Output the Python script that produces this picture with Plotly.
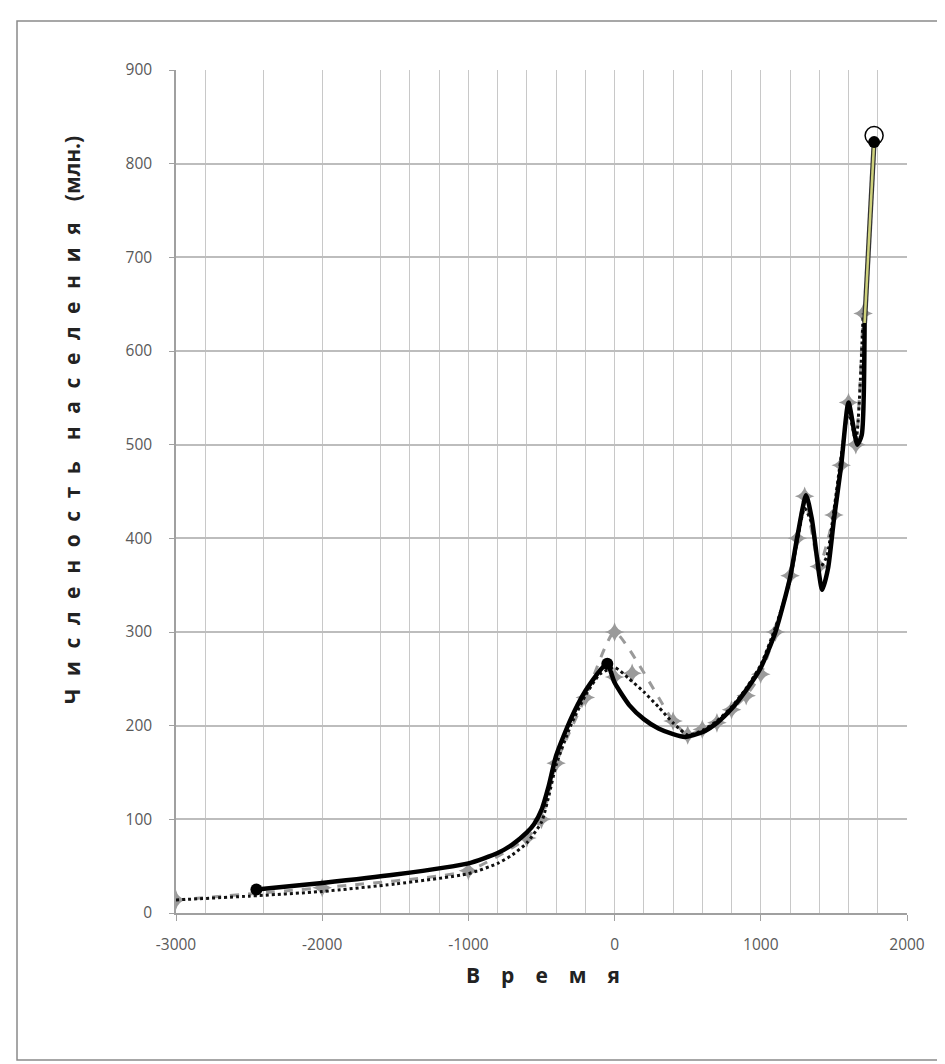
import plotly.graph_objects as go

# ---- data ----
data_years = [-3000, -2000, -1000, -600, -500, -400, -200, 0, 400, 500, 600, 700,
              800, 900, 1000, 1100, 1200, 1250, 1300, 1400, 1500, 1550, 1600, 1650, 1700]
data_pop = [14, 27, 45, 80, 100, 160, 230, 300, 205, 190, 196, 203,
            217, 232, 255, 300, 360, 400, 445, 370, 425, 478, 545, 500, 640]

extra_years = [0, 120]
extra_pop = [252, 256]

dot_years = [-3000, -2500, -2000, -1500, -1000, -800, -700, -600, -500, -450, -400, -300,
             -200, -100, 0, 100, 200, 300, 400, 500, 600, 700, 800, 900, 1000, 1100,
             1200, 1250, 1300, 1350, 1400, 1450, 1500, 1550, 1600, 1650, 1700]
dot_pop = [14, 18, 23, 31, 42, 53, 62, 75, 97, 125, 158, 200,
           232, 255, 262, 250, 236, 220, 203, 190, 195, 205, 220, 240, 265, 305,
           355, 398, 432, 415, 368, 380, 430, 488, 535, 505, 640]

model_years = [-2450, -2000, -1500, -1000, -800, -700, -600, -550, -500, -450, -400, -300,
               -200, -100, -50, 0, 100, 200, 300, 400, 480, 600, 700, 800, 900, 1000,
               1100, 1200, 1250, 1310, 1350, 1420, 1460, 1500, 1550, 1600, 1660, 1690, 1710]
model_pop = [25, 32, 41, 53, 64, 73, 86, 95, 110, 136, 168, 207,
             237, 259, 266, 246, 222, 207, 197, 191, 188, 193, 203, 218, 238, 262,
             300, 358, 402, 446, 420, 345, 368, 420, 478, 545, 500, 510, 630]

tail_years = [1710, 1775]
tail_pop = [630, 823]

marker_years = [-2450, -50, 1775]
marker_pop = [25, 266, 823]

end_year = [1775]
end_pop = [830]

x_ticks = [-3000, -2000, -1000, 0, 1000, 2000]
x_minor = [-2800, -2400, -1600, -1400, -1200, -800, -600, -400, -200, 200, 400, 600,
           800, 1200, 1400, 1600, 1800]
y_ticks = [0, 100, 200, 300, 400, 500, 600, 700, 800, 900]

x_title = "В р е м я"
y_title_words = ["Численость", "населения", "(млн.)"]

GREY = "#9a9a9a"
EN, HAIR, EM = "\u2002", "\u200a", "\u2003"


def spaced(word, gap):
    return gap.join(list(word))


y_title = (EN * 2).join([spaced(y_title_words[0], EN + HAIR),
                         spaced(y_title_words[1], EN + HAIR),
                         y_title_words[2]])
x_title_txt = EM.join(x_title.split(" "))

fig = go.Figure()
fig.add_trace(go.Scatter(x=data_years, y=data_pop, mode="lines+markers",
                         line=dict(color=GREY, width=3, dash="dash", shape="spline", smoothing=0.5),
                         marker=dict(symbol="star-diamond", size=14, color=GREY),
                         showlegend=False))
fig.add_trace(go.Scatter(x=extra_years, y=extra_pop, mode="markers",
                         marker=dict(symbol="star-diamond", size=14, color=GREY),
                         showlegend=False))
fig.add_trace(go.Scatter(x=dot_years, y=dot_pop, mode="lines",
                         line=dict(color="#111111", width=3, dash="dot", shape="spline", smoothing=0.6),
                         showlegend=False))
fig.add_trace(go.Scatter(x=model_years, y=model_pop, mode="lines",
                         line=dict(color="black", width=4.5, shape="spline", smoothing=0.6),
                         showlegend=False))
fig.add_trace(go.Scatter(x=tail_years, y=tail_pop, mode="lines",
                         line=dict(color="#333333", width=5), showlegend=False))
fig.add_trace(go.Scatter(x=tail_years, y=tail_pop, mode="lines",
                         line=dict(color="#cfd27c", width=2.5), showlegend=False))
fig.add_trace(go.Scatter(x=marker_years, y=marker_pop, mode="markers",
                         marker=dict(symbol="circle", size=12, color="black"),
                         showlegend=False))
fig.add_trace(go.Scatter(x=end_year, y=end_pop, mode="markers",
                         marker=dict(symbol="circle-open", size=18, color="black",
                                     line=dict(width=1.5)),
                         showlegend=False))

tick_font = dict(family="Open Sans", size=15.5, color="#595959")

fig.update_layout(
    width=937, height=1054,
    margin=dict(l=168, r=38, t=62, b=149),
    paper_bgcolor="white", plot_bgcolor="white",
    font=dict(family="Open Sans"),
    xaxis=dict(range=[-3000, 2000], tickmode="array", tickvals=x_ticks,
               ticktext=[str(v) for v in x_ticks],
               showgrid=True, gridcolor="#c8c8c8", gridwidth=1,
               minor=dict(tickmode="array", tickvals=x_minor, showgrid=True,
                          gridcolor="#c8c8c8", gridwidth=1),
               showline=True, linecolor="#a0a0a0", linewidth=1.5,
               ticks="outside", ticklen=6, tickcolor="#a0a0a0",
               ticklabelstandoff=11,
               tickfont=tick_font, zeroline=False),
    yaxis=dict(range=[0, 900], tickmode="array", tickvals=y_ticks,
               showgrid=True, gridcolor="#bdbdbd", gridwidth=1.5,
               showline=True, linecolor="#a0a0a0", linewidth=1.5,
               ticks="outside", ticklen=5, tickcolor="#a0a0a0",
               ticklabelstandoff=14,
               tickfont=tick_font, zeroline=False),
)

fig.add_annotation(text="<b>" + x_title_txt + "</b>", xref="paper", yref="paper",
                   x=0.502, y=-0.0735, xanchor="center", yanchor="middle",
                   showarrow=False, font=dict(size=21, color="#222222"))
fig.add_annotation(text="<b>" + y_title + "</b>", xref="paper", yref="paper",
                   x=-0.142, y=0.585, xanchor="center", yanchor="middle", textangle=-90,
                   showarrow=False, font=dict(size=21, color="#222222"))

fig.add_shape(type="rect", xref="paper", yref="paper",
              x0=-0.2175, x1=1.1, y0=-0.1744, y1=1.058,
              line=dict(color="#8a8a8a", width=1.5), layer="below")

fig.write_html("out.html")
